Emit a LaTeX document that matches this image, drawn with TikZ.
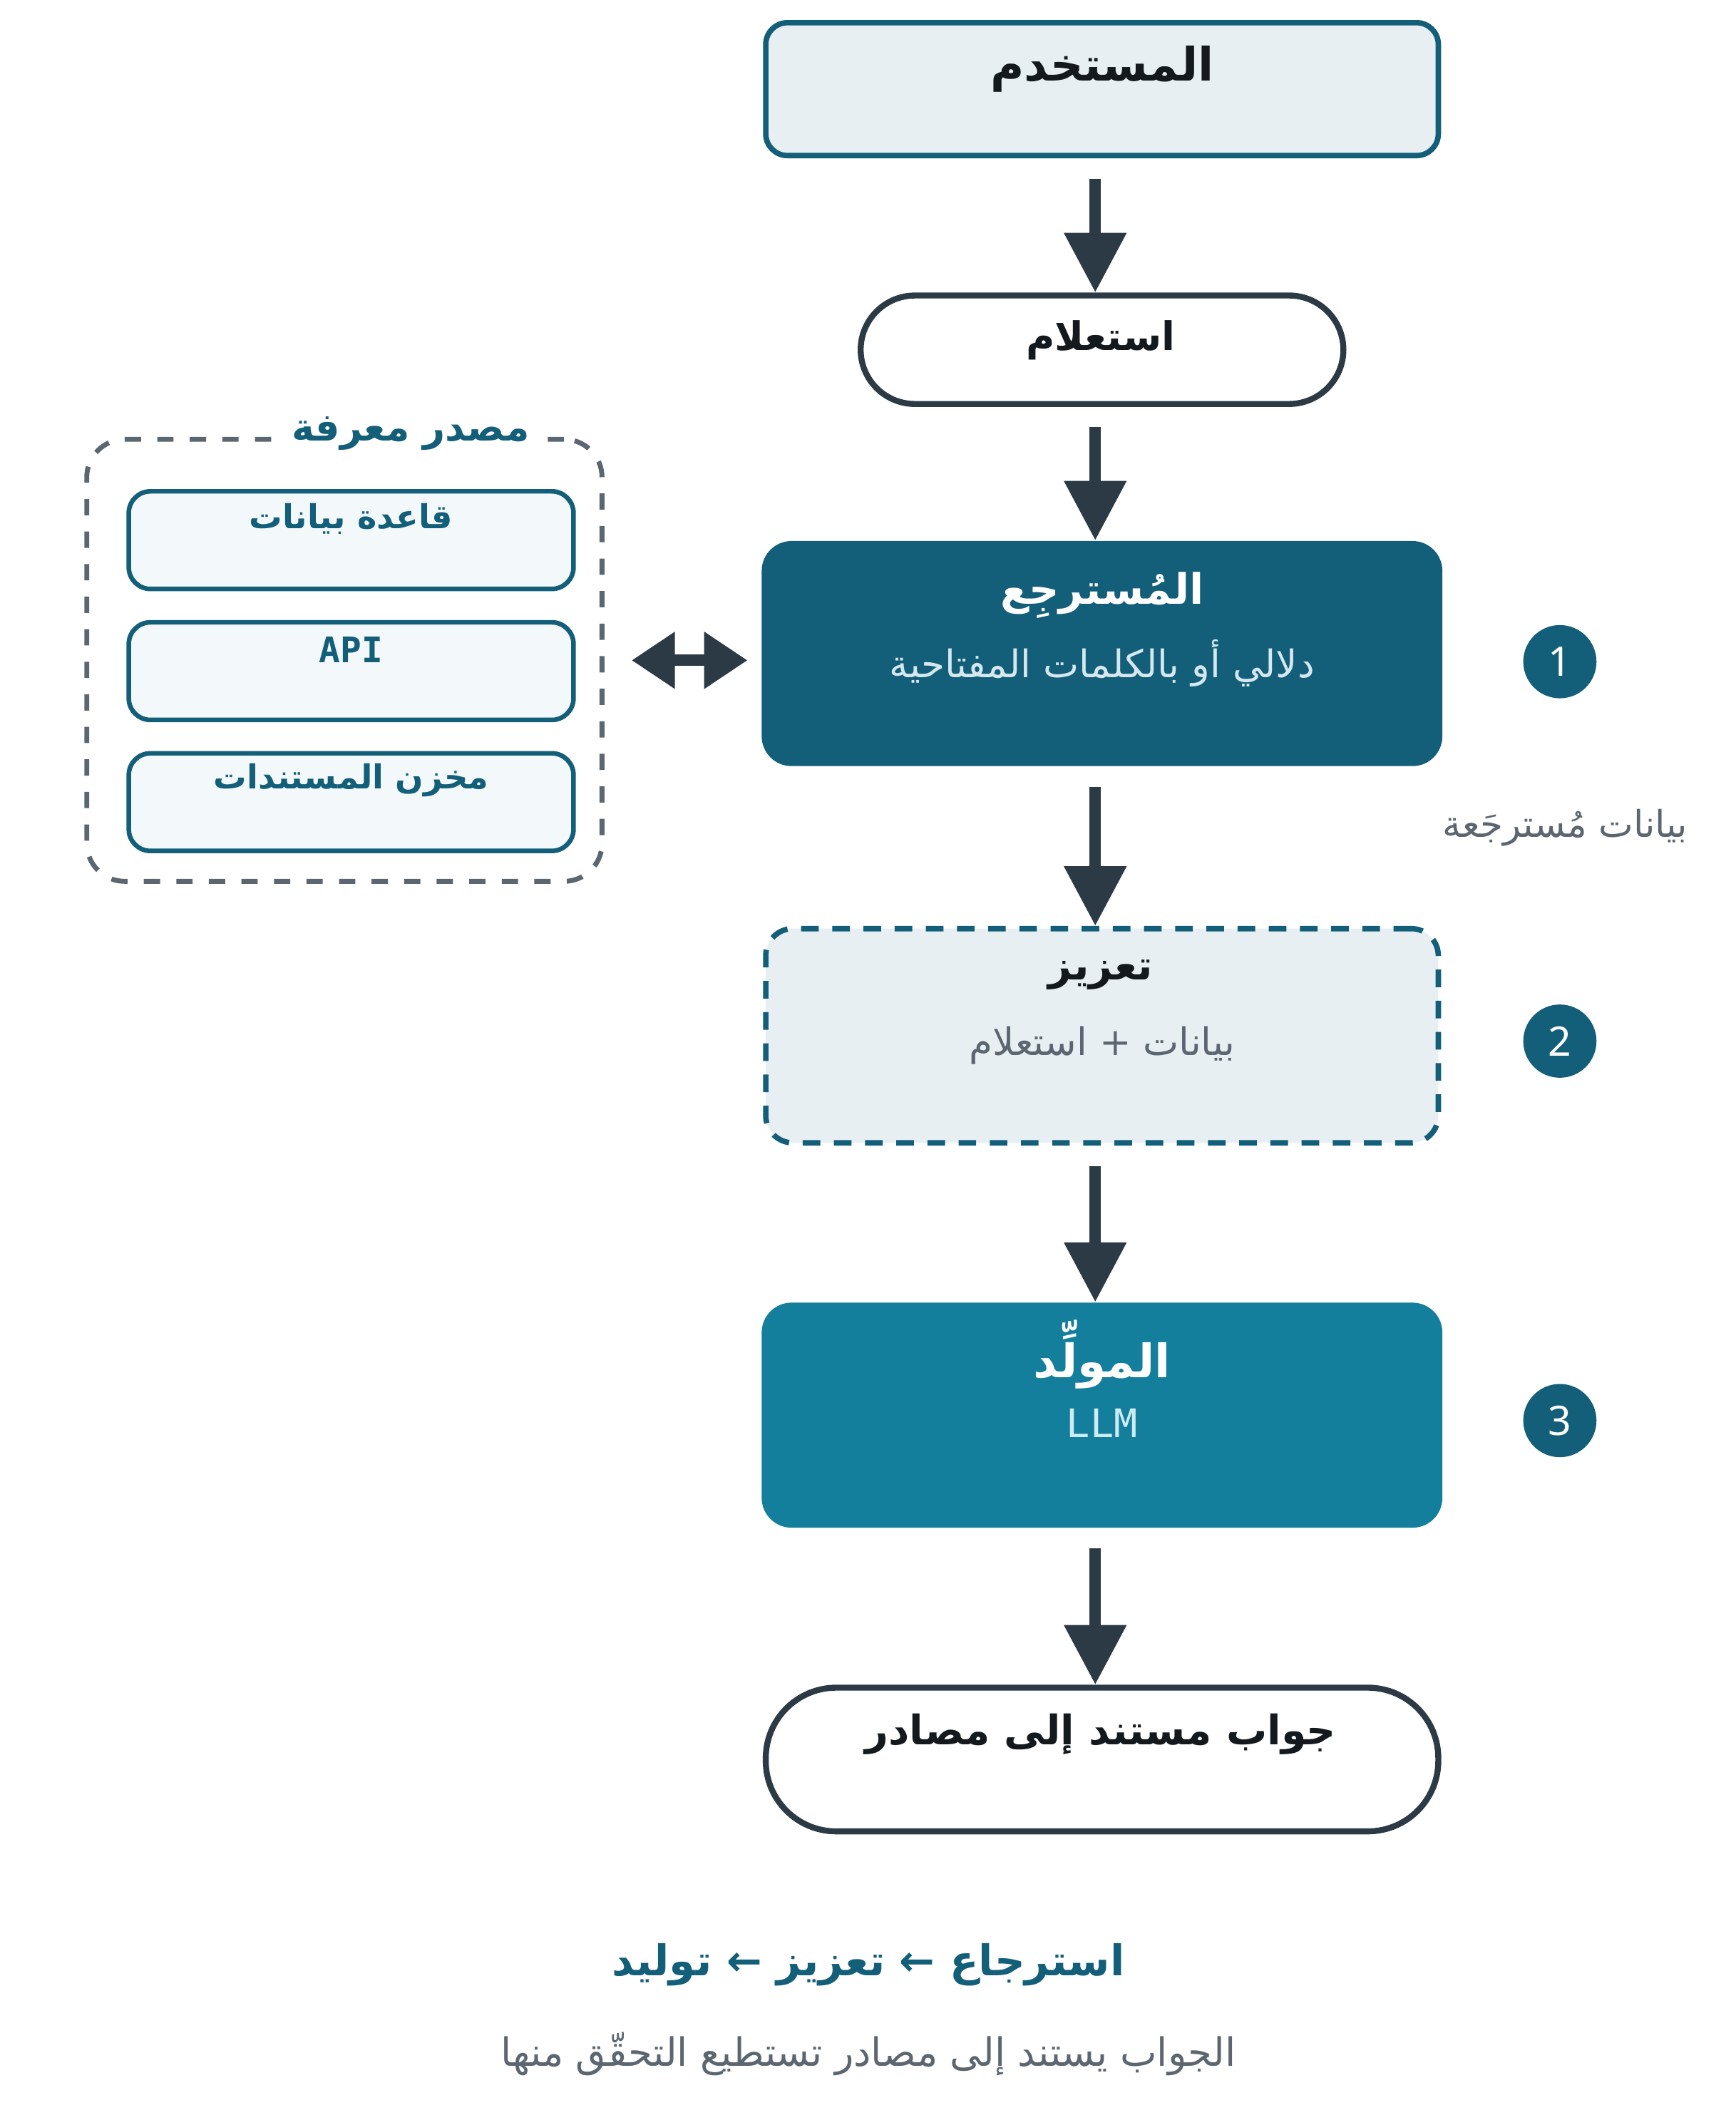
\documentclass[tikz,border=0pt]{standalone}
\usepackage{fontspec}
\usetikzlibrary{arrows.meta,calc}
\TeXXeTstate=1
\newfontfamily\arabicfont[Script=Arabic]{DejaVu Sans}
\newfontfamily\codefont{DejaVu Sans Mono}
\newfontfamily\numfont{Noto Sans}
\newcommand\artxt[1]{{\arabicfont\beginR #1\endR}}
\definecolor{tealdark}{HTML}{135E78}
\definecolor{tealmid}{HTML}{137F9C}
\definecolor{inkdark}{HTML}{2B3A44}
\definecolor{lightfill}{HTML}{E8EFF3}
\definecolor{innerfill}{HTML}{F3F8FB}
\definecolor{graytxt}{HTML}{5C6670}
\definecolor{titletxt}{HTML}{14191E}
\definecolor{subtxt}{HTML}{D5E7EF}
\definecolor{llmtxt}{HTML}{CDEBF3}
\tikzset{
  boxbase/.style={rectangle, inner sep=0pt},
  userbox/.style={boxbase, draw=tealdark, fill=lightfill, line width=2pt, rounded corners=8pt, minimum width=248pt, minimum height=49pt},
  pillbox/.style={boxbase, draw=inkdark, fill=white, line width=2.2pt},
  solidbox/.style={boxbase, rounded corners=11pt, minimum width=251pt, minimum height=83pt},
  augbox/.style={boxbase, draw=tealdark, fill=lightfill, line width=2pt, dash pattern=on 6.5pt off 5pt, rounded corners=10pt, minimum width=248pt, minimum height=79pt},
  ksbox/.style={boxbase, draw=graytxt, line width=1.8pt, dash pattern=on 6pt off 6pt, rounded corners=14pt, minimum width=190pt, minimum height=163pt},
  innerbox/.style={boxbase, draw=tealdark, fill=innerfill, line width=1.7pt, rounded corners=8pt, minimum width=164pt, minimum height=36pt},
  stepnum/.style={circle, fill=tealdark, minimum size=27pt, inner sep=0pt, text=white, font=\numfont\fontsize{15}{15}\selectfont},
  flow/.style={draw=inkdark, line width=4.2pt, -{Triangle[width=22pt,length=22pt]}, shorten <=7.5pt},
  twoway/.style={draw=inkdark, line width=4.2pt, {Triangle[width=20pt,length=16pt]}-{Triangle[width=20pt,length=16pt]}},
  ttl/.style={inner sep=0pt, text=titletxt, font=\fontsize{17}{20}\selectfont\arabicfont\bfseries},
  sub/.style={inner sep=0pt, font=\fontsize{14}{17}\selectfont},
  innerlbl/.style={inner sep=0pt, text=tealdark, font=\fontsize{12.2}{15}\selectfont\arabicfont\bfseries},
}
\begin{document}
\begin{tikzpicture}[x=0.498pt, y=-0.498pt]
\useasboundingbox (0,0) rectangle (1285.14,1566.27);

% main column
\node[userbox] (user) at (816,66) {};
\node[ttl] (usert) at (816,51) {\artxt{المستخدم}};

\node[pillbox, rounded corners=20pt, minimum width=178pt, minimum height=40pt] (query) at (816,259) {};
\node[ttl, font=\fontsize{14.5}{17}\selectfont\arabicfont\bfseries] (queryt) at (815,252) {\artxt{استعلام}};

\node[solidbox, fill=tealdark] (ret) at (816,484) {};
\node[ttl, text=white, font=\fontsize{15.5}{18}\selectfont\arabicfont\bfseries] (rett) at (816,441) {\artxt{المُسترجِع}};
\node[sub, text=subtxt] (rets) at (816,491) {\artxt{دلالي أو بالكلمات المفتاحية}};

\node[augbox] (aug) at (816,767) {};
\node[ttl, font=\fontsize{15}{18}\selectfont\arabicfont\bfseries] (augt) at (815,722) {\artxt{تعزيز}};
\node[sub, text=graytxt] (augs) at (816,774) {\artxt{بيانات + استعلام}};

\node[solidbox, fill=tealmid] (gen) at (816,1048) {};
\node[ttl, text=white] (gent) at (816,1003) {\artxt{المولِّد}};
\node[sub, text=llmtxt, font=\fontsize{14.5}{17}\selectfont\codefont] (gens) at (816,1054) {LLM};

\node[pillbox, rounded corners=26pt, minimum width=248pt, minimum height=53pt] (ans) at (816,1303) {};
\node[ttl, font=\fontsize{15}{18}\selectfont\arabicfont\bfseries] (anst) at (815,1284) {\artxt{جواب مستند إلى مصادر}};

% step numbers
\node[stepnum] (n1) at (1155,490) {1};
\node[stepnum] (n2) at (1155,771) {2};
\node[stepnum] (n3) at (1155,1052) {3};

\node[sub, text=graytxt, font=\fontsize{13.6}{16}\selectfont] (retlbl) at (1159,613) {\artxt{بيانات مُسترجَعة}};

% flow arrows
\draw[flow] ([xshift=-2.5pt]user.south) -- ([xshift=-2.5pt]query.north);
\draw[flow] ([xshift=-2.5pt]query.south) -- ([xshift=-2.5pt]ret.north);
\draw[flow] ([xshift=-2.5pt]ret.south) -- ([xshift=-2.5pt]aug.north);
\draw[flow] ([xshift=-2.5pt]aug.south) -- ([xshift=-2.5pt]gen.north);
\draw[flow] ([xshift=-2.5pt]gen.south) -- ([xshift=-2.5pt]ans.north);

% knowledge source
\node[ksbox] (ks) at (255,489) {};
\node[innerbox] (db) at (260,400) {};
\node[innerbox] (api) at (260,497) {};
\node[innerbox] (docs) at (260,594) {};
\node[innerlbl] (dbt) at (260,384) {\artxt{قاعدة بيانات}};
\node[innerlbl, font=\fontsize{13}{16}\selectfont\codefont\bfseries] (apit) at (260,481) {API};
\node[innerlbl] (docst) at (260,578) {\artxt{مخزن المستندات}};
\node[fill=white, inner xsep=6pt, inner ysep=2pt, text=tealdark, font=\fontsize{14.2}{17}\selectfont\arabicfont\bfseries] (kst) at (304,321) {\artxt{مصدر معرفة}};

\draw[twoway, shorten <=10pt, shorten >=5pt] (ks.east) -- (ks.east -| ret.west);

% footer
\node[ttl, text=tealdark, font=\fontsize{15.6}{19}\selectfont\arabicfont\bfseries] (foot) at (643,1455) {\artxt{استرجاع ← تعزيز ← توليد}};
\node[sub, text=graytxt, font=\fontsize{14.4}{17}\selectfont] (foots) at (643,1521) {\artxt{الجواب يستند إلى مصادر تستطيع التحقّق منها}};
\end{tikzpicture}
\end{document}
